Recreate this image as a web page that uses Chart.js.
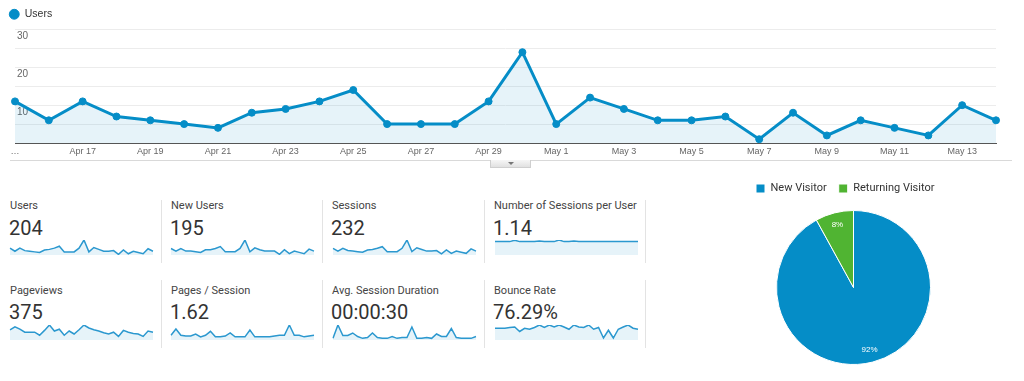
<!DOCTYPE html>
<html><head><meta charset="utf-8">
<script src="https://cdn.jsdelivr.net/npm/chart.js@4.4.0/dist/chart.umd.min.js"></script>
<style>
html,body{margin:0;padding:0;background:#fff;width:1024px;height:381px;overflow:hidden;position:relative;font-family:Roboto,Arial,sans-serif;}
canvas{position:absolute;}
.rule{position:absolute;left:10px;top:160px;width:1002px;height:1px;background:#d9d9d9;}
.tab{position:absolute;left:490px;top:160px;width:41px;height:8px;background:linear-gradient(#f6f6f6,#e1e1e1);border:1px solid #cfcfcf;border-top:none;box-sizing:border-box;}
.tab:after{content:'';position:absolute;left:17px;top:2px;border-left:3px solid transparent;border-right:3px solid transparent;border-top:3px solid #777;}
.title{position:absolute;font-size:11px;line-height:13px;color:#444;white-space:nowrap;}
.value{position:absolute;font-size:20px;line-height:24px;color:#333;white-space:nowrap;}
.sep{position:absolute;width:1px;background:#e3e3e3;}
</style></head><body>
<canvas id="main" width="1024" height="163" style="left:0;top:0;width:1024px;height:163px"></canvas>
<div class="rule"></div><div class="tab"></div>
<div id="cards"></div>
<canvas id="pie" width="263" height="194" style="left:700px;top:171px;width:263px;height:194px"></canvas>
<script>
// ---------- DATA ----------
const dates = ['Apr 15','Apr 16','Apr 17','Apr 18','Apr 19','Apr 20','Apr 21','Apr 22','Apr 23','Apr 24','Apr 25','Apr 26','Apr 27','Apr 28','Apr 29','Apr 30','May 1','May 2','May 3','May 4','May 5','May 6','May 7','May 8','May 9','May 10','May 11','May 12','May 13','May 14'];
const xTickLabels = ['…','','Apr 17','','Apr 19','','Apr 21','','Apr 23','','Apr 25','','Apr 27','','Apr 29','','May 1','','May 3','','May 5','','May 7','','May 9','','May 11','','May 13',''];
const yTickLabels = ['10','20','30'];
const users = [11,6,11,7,6,5,4,8,9,11,14,5,5,5,11,24,5,12,9,6,6,7,1,8,2,6,4,2,10,6];
const newUsers = [10,6,10,6,6,5,4,8,8,10,13,5,5,5,10,23,5,11,8,6,6,6,1,8,2,6,4,2,9,6];
const sessions = [12,7,12,8,7,6,5,9,10,12,15,6,6,6,12,27,6,13,10,7,7,8,2,9,3,7,5,3,11,7];
const sessionsPerUser = [1.09,1.09,1.09,1.09,1.2,1.09,1.09,1.09,1.09,1.13,1.09,1.09,1.09,1.22,1.09,1.09,1.13,1.09,1.09,1.09,1.09,1.09,1.09,1.09,1.09,1.09,1.09,1.09,1.09,1.09];
const pageviews = [17,22,18,13,13,13,8,16,25,15,18,8,15,10,17,25,20,17,15,12,10,13,6,16,13,11,10,6,15,13];
const pagesPerSession = [1.63,2.47,1.63,1.53,1.53,1.79,1.42,1.63,2.16,1.42,1.42,1.53,1.95,1.42,1.42,1.42,2.32,1.42,1.42,1.42,1.42,1.53,1.63,1.63,3.0,1.63,1.63,1.42,1.53,1.63];
const avgSessionDuration = [10,90,27,27,42,21,10,15,42,15,10,10,21,10,15,15,78,10,10,15,10,36,21,21,69,15,10,10,10,21];
const bounceRate = [77,77,77,80,82,64,77,73,80,90,80,90,82,90,82,73,90,82,80,90,73,80,38,69,38,73,82,90,77,73];
const metricNames = ['Users','New Users','Sessions','Number of Sessions per User','Pageviews','Pages / Session','Avg. Session Duration','Bounce Rate'];
const metricValues = ['204','195','232','1.14','375','1.62','00:00:30','76.29%'];
const visitorTypes = ['New Visitor','Returning Visitor'];
const visitorShares = [92, 8];

// ---------- MAIN CHART ----------
const blue = '#058DC7', fillBlue = 'rgba(5,141,199,0.1)';
const arial = '"Liberation Sans", Arial, sans-serif';
new Chart(document.getElementById('main'), {
  type: 'line',
  data: { labels: dates, datasets: [{ label: 'Users', data: users, borderColor: blue, borderWidth: 3,
    backgroundColor: fillBlue, fill: 'start', tension: 0, pointRadius: 3.5, pointBorderWidth: 1,
    pointBackgroundColor: blue, pointBorderColor: blue }] },
  options: {
    responsive: false, animation: false, events: [],
    layout: { padding: { left: 0, right: 28, top: 0, bottom: 0 } },
    plugins: {
      legend: { position: 'top', align: 'start',
        labels: { usePointStyle: true, pointStyle: 'circle', boxWidth: 12, boxHeight: 7, padding: 9,
          color: '#333', font: { family: arial, size: 10.5 } } },
      tooltip: { enabled: false }
    },
    scales: {
      x: { grid: { display: false, drawTicks: false }, border: { display: true, color: '#555', width: 1 },
        ticks: { autoSkip: false, maxRotation: 0, padding: 3, color: '#666', font: { family: arial, size: 9 },
          callback: (v, i) => xTickLabels[i] },
        afterFit: s => { s.height = 20; } },
      y: { min: 0, max: 30,
        grid: { color: c => c.tick.value === 0 ? 'rgba(0,0,0,0)' : '#ececec', drawTicks: false },
        border: { display: false },
        ticks: { stepSize: 5, mirror: true, padding: 2, labelOffset: 7, color: '#666', font: { family: arial, size: 10 },
          callback: v => yTickLabels.includes(String(v)) ? String(v) : '' },
        afterFit: s => { s.width = 15; } }
    }
  }
});

// ---------- METRIC CARDS ----------
const sparkSeries = [users, newUsers, sessions, sessionsPerUser, pageviews, pagesPerSession, avgSessionDuration, bounceRate];
const sparkMin = [0, 0, 0, 0, 0, 1, 0, 30];
const colX = [10, 171, 332, 494];
const sparkX = [10, 171, 333, 495];
const rowTitleTop = [199, 284];
const rowValueTop = [216, 300];
const rowSparkTop = [240, 325];
const cards = document.getElementById('cards');
metricNames.forEach((name, i) => {
  const r = Math.floor(i / 4), c = i % 4;
  const t = document.createElement('div'); t.className = 'title'; t.textContent = name;
  t.style.left = colX[c] + 'px'; t.style.top = rowTitleTop[r] + 'px'; cards.appendChild(t);
  const v = document.createElement('div'); v.className = 'value'; v.textContent = metricValues[i];
  v.style.left = (colX[c] - 1) + 'px'; v.style.top = rowValueTop[r] + 'px'; cards.appendChild(v);
  const cv = document.createElement('canvas'); cv.width = 147; cv.height = 19;
  cv.style.left = (sparkX[c] - 2) + 'px'; cv.style.top = (rowSparkTop[r] - 2) + 'px';
  cv.style.width = '147px'; cv.style.height = '19px'; cards.appendChild(cv);
  new Chart(cv, {
    type: 'line',
    data: { labels: dates, datasets: [{ data: sparkSeries[i], borderColor: '#2b98cf', borderWidth: 1.5,
      backgroundColor: fillBlue, fill: 'start', pointRadius: 0, tension: 0 }] },
    options: { responsive: false, animation: false, events: [], layout: { padding: 2 },
      plugins: { legend: { display: false }, tooltip: { enabled: false } },
      scales: { x: { display: false }, y: { display: false, min: sparkMin[i], max: Math.max(...sparkSeries[i]) } } }
  });
});
[161, 322, 484, 645].forEach(x => {
  [[200, 63], [280, 68]].forEach(([top, h]) => {
    const s = document.createElement('div'); s.className = 'sep';
    s.style.left = x + 'px'; s.style.top = top + 'px'; s.style.height = h + 'px'; cards.appendChild(s);
  });
});

// ---------- PIE ----------
const pieLabels = { id: 'pieLabels', afterDatasetsDraw(chart) {
  const ctx = chart.ctx, meta = chart.getDatasetMeta(0), data = chart.data.datasets[0].data;
  const total = data.reduce((a, b) => a + b, 0);
  meta.data.forEach((arc, i) => {
    const p = arc.getProps(['x', 'y', 'startAngle', 'endAngle', 'outerRadius'], true);
    const a = (p.startAngle + p.endAngle) / 2, r = p.outerRadius * 0.84;
    ctx.save(); ctx.fillStyle = '#fff'; ctx.font = '8px ' + arial; ctx.textAlign = 'center'; ctx.textBaseline = 'middle';
    ctx.fillText(Math.round(data[i] / total * 100) + '%', p.x + Math.cos(a) * r, p.y + Math.sin(a) * r);
    ctx.restore();
  });
} };
const legendGap = { id: 'legendGap', beforeInit(chart) {
  const lg = chart.legend; if (!lg) return;
  const orig = lg.fit;
  lg.fit = function () { orig.call(this); this.height += 6; };
} };
new Chart(document.getElementById('pie'), {
  type: 'pie',
  data: { labels: visitorTypes, datasets: [{ data: visitorShares, backgroundColor: ['#058DC7', '#50B432'],
    borderColor: '#fff', borderWidth: 1 }] },
  options: { responsive: false, animation: false, events: [],
    layout: { padding: { left: 44, right: 0, top: 0, bottom: 0 } },
    plugins: { legend: { position: 'top', align: 'start',
        labels: { boxWidth: 9, boxHeight: 9, padding: 12, color: '#333', font: { family: 'Roboto, Arial, sans-serif', size: 11 } } },
      tooltip: { enabled: false } } },
  plugins: [pieLabels, legendGap]
});
</script>
</body></html>
